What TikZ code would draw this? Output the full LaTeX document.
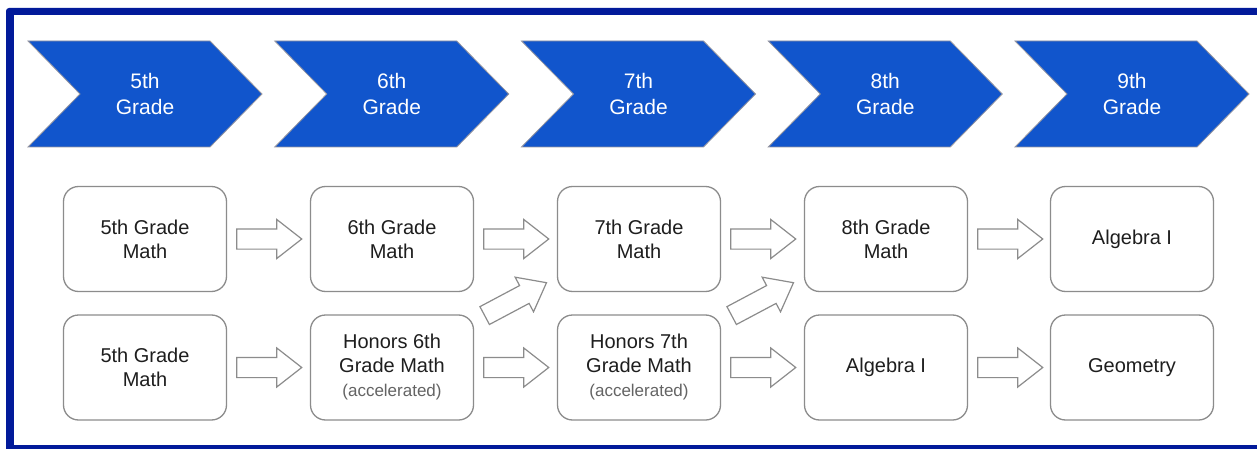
\documentclass[tikz,border=0pt]{standalone}
\usepackage{fontspec}
\setmainfont{Liberation Sans}
\usetikzlibrary{shapes.arrows,calc}
\definecolor{framecol}{RGB}{2,26,154}
\definecolor{chevblue}{RGB}{17,85,204}
\definecolor{chevline}{RGB}{150,150,160}
\definecolor{boxline}{RGB}{140,140,140}
\definecolor{txt}{RGB}{30,30,30}
\definecolor{acctxt}{RGB}{100,100,100}
\newcommand{\accfont}{\fontsize{17}{20}\selectfont\color{acctxt}}
\tikzset{
  chev/.style={fill=chevblue, draw=chevline, line width=0.8pt},
  gradetext/.style={align=center, text=white, font=\fontsize{21}{26}\selectfont, inner sep=0pt},
  mbox/.style={draw=boxline, fill=white, line width=1.3pt, rounded corners=15pt,
    minimum width=163pt, minimum height=105pt, align=center, text=txt,
    font=\fontsize{20}{24}\selectfont, inner sep=0pt},
  barrow/.style={single arrow, draw=boxline, fill=white, line width=1.2pt,
    minimum height=65pt, minimum width=38pt, single arrow head extend=9.5pt,
    single arrow tip angle=76, inner xsep=0pt, inner ysep=9.5pt, anchor=tail}
}
\begin{document}
\begin{tikzpicture}[x=1pt,y=-1pt]
\useasboundingbox (0,0) rectangle (1257,449);
\fill[white] (0,0) rectangle (1257,449);
% frame
\fill[framecol, rounded corners=3pt] (6,8) rectangle (1290,480);
\fill[white] (14,15) rectangle (1290,445);
% chevrons
\foreach \i/\lab in {0/5,1/6,2/7,3/8,4/9}{
  \pgfmathsetmacro{\L}{28+246.75*\i}
  \draw[chev] (\L,41) -- ++(182,0) -- ++(52,53) -- ++(-52,53) -- ++(-182,0) -- ++(52,-53) -- cycle;
  \node[gradetext] (g\lab) at (\L+117,94) {\lab th\\Grade};
}
% boxes
\node[mbox] (m5) at (145,239) {5th Grade\\Math};
\node[mbox] (m6) at (392,239) {6th Grade\\Math};
\node[mbox] (m7) at (639,239) {7th Grade\\Math};
\node[mbox] (m8) at (886,239) {8th Grade\\Math};
\node[mbox] (m9) at (1132,239) {Algebra I};
\node[mbox] (r5) at (145,367.5) {5th Grade\\Math};
\node[mbox] (h6) at (392,367.5) {Honors 6th\\Grade Math\\{\accfont (accelerated)}};
\node[mbox] (h7) at (639,367.5) {Honors 7th\\Grade Math\\{\accfont (accelerated)}};
\node[mbox] (a8) at (886,367.5) {Algebra I};
\node[mbox] (g9) at (1132,367.5) {Geometry};
% horizontal block arrows
\node[barrow] (a56) at ($(m5.east)+(9,0)$) {};
\node[barrow] (a67) at ($(m6.east)+(9,0)$) {};
\node[barrow] (a78) at ($(m7.east)+(9,0)$) {};
\node[barrow] (a89) at ($(m8.east)+(9,0)$) {};
\node[barrow] (b56) at ($(r5.east)+(9,0)$) {};
\node[barrow] (b67) at ($(h6.east)+(9,0)$) {};
\node[barrow] (b78) at ($(h7.east)+(9,0)$) {};
\node[barrow] (b89) at ($(a8.east)+(9,0)$) {};
% diagonal block arrows
\node[barrow, minimum height=70pt, rotate=28] (d67) at ($(h6.north east)+(10,1.5)$) {};
\node[barrow, minimum height=70pt, rotate=28] (d78) at ($(h7.north east)+(10,1.5)$) {};
\end{tikzpicture}
\end{document}
